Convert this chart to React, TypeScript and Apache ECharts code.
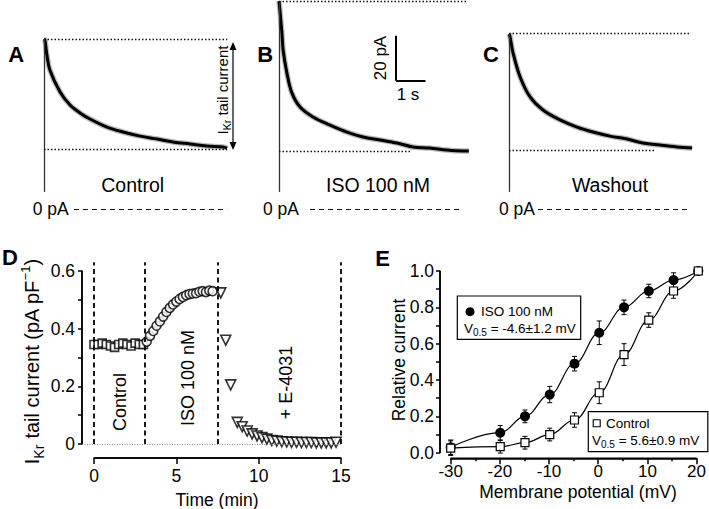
import React, { useEffect, useRef } from "react";
import * as echarts from "echarts";

const FONT = '"Liberation Sans", Arial, Helvetica, sans-serif';

// ---------- Panels A–C: current traces (time s, current pA) ----------
const traceATime = [0, 0.03, 0.1, 0.2, 0.55, 0.89, 1.23, 1.57, 2.15, 2.7, 3.28, 3.86, 4.4, 4.98, 5.56, 6.11, 6.25];
const traceACurrent = [75.6, 75.1, 68.4, 61.8, 52.0, 46.2, 42.7, 40.0, 36.4, 34.2, 32.4, 31.1, 29.8, 28.9, 28.0, 27.6, 27.1];
const traceBTime = [0, 0.03, 0.1, 0.14, 0.27, 0.44, 0.72, 1.16, 1.74, 2.32, 2.87, 3.45, 4.03, 4.57, 5.15, 5.73, 6.28, 6.48];
const traceBCurrent = [92.4, 88.4, 78.2, 70.7, 60.4, 51.6, 45.3, 40.9, 37.3, 34.2, 32.0, 30.7, 29.3, 27.6, 27.1, 26.2, 25.8, 25.8];
const traceCTime = [0, 0.03, 0.14, 0.38, 0.72, 1.16, 1.74, 2.32, 2.87, 3.45, 4.03, 4.57, 5.15, 5.73, 6.25];
const traceCCurrent = [77.8, 76.9, 69.3, 58.7, 49.8, 44.0, 39.6, 36.4, 34.2, 32.4, 31.1, 29.3, 28.4, 27.6, 27.1];
const traceXMax = [6.25, 6.48, 6.25];
const tracePeaks = [75.4, 92.4, 78.1];
const traceBaselines = [26.7, 25.5, 25.9];
const baselineEnds = [6.25, 4.47, 4.98];
const peakEnds = [6.25, 6.45, 6.18];
const zeroLineStarts = [1.02, 1.06, 0.99];
const zeroLineEnds = [6.25, 6.25, 6.18];
const traceLabels = ["Control", "ISO 100 nM", "Washout"];
const scaleBarCurrent = 20; // pA
const scaleBarTime = 1; // s

// ---------- Panel D: time course ----------
const controlTime = [0, 0.25, 0.5, 0.75, 1.0, 1.25, 1.5, 1.75, 2.0, 2.25, 2.5, 2.75, 3.0];
const controlCurrent = [0.345, 0.345, 0.35, 0.345, 0.34, 0.335, 0.345, 0.35, 0.345, 0.34, 0.35, 0.345, 0.345];
const isoTime = [3.2, 3.4, 3.6, 3.8, 4.0, 4.2, 4.4, 4.6, 4.8, 5.0, 5.2, 5.4, 5.6, 5.8, 6.0, 6.2, 6.4, 6.6, 6.8, 7.0, 7.2];
const isoCurrent = [0.355, 0.375, 0.392, 0.41, 0.425, 0.442, 0.458, 0.472, 0.484, 0.494, 0.503, 0.51, 0.516, 0.52, 0.522, 0.523, 0.528, 0.53, 0.527, 0.532, 0.53];
const e4031Time = [7.7, 8.0, 8.3, 8.7, 9.0, 9.3, 9.6, 9.9, 10.2, 10.5, 10.8, 11.1, 11.4, 11.7, 12.0, 12.3, 12.6, 12.9, 13.2, 13.5, 13.8, 14.1, 14.4, 14.7];
const e4031Current = [0.524, 0.36, 0.205, 0.075, 0.06, 0.045, 0.035, 0.028, 0.022, 0.017, 0.012, 0.01, 0.008, 0.007, 0.006, 0.006, 0.005, 0.005, 0.005, 0.004, 0.004, 0.004, 0.004, 0.006];
const dividerTimes = [0, 3.1, 7.5, 15];
const dYLabels = ["0", "0.2", "0.4", "0.6"];

// ---------- Panel E: activation curves ----------
const voltages = [-30, -20, -15, -10, -5, 0, 5, 10, 15, 20];
const isoRel = [0.03, 0.11, 0.2, 0.32, 0.49, 0.66, 0.8, 0.89, 0.95, 1.0];
const isoSem = [0.04, 0.04, 0.035, 0.045, 0.04, 0.065, 0.04, 0.037, 0.04, 0];
const ctrlRel = [0.025, 0.033, 0.055, 0.1, 0.18, 0.33, 0.54, 0.73, 0.89, 1.0];
const ctrlSem = [0.04, 0.035, 0.035, 0.035, 0.04, 0.06, 0.06, 0.04, 0.04, 0];
const eYLabels = ["0.0", "0.2", "0.4", "0.6", "0.8", "1.0"];

const zip = (a: number[], b: number[]) => a.map((v, i) => [v, b[i]]);

function buildOption() {
  const traceLefts = [44, 279, 509];
  const grids: any[] = traceLefts.map((left, i) => ({
    left, width: traceXMax[i] * 29.3, top: 0, height: 209,
  }));
  // data grids: D (3), E (4), D overlay for reference lines (5)
  grids.push({ left: 94, width: 247, top: 271, height: 173 });
  grids.push({ left: 450.7, width: 247.6, top: 271, height: 181.7 });
  const dPxPerMin = 247 / 15;
  const dPxPerUnit = 173 / 0.6;
  const ovMinX = -0.75, ovMaxY = 0.64;
  grids.push({
    left: 94 + ovMinX * dPxPerMin, width: (15 - ovMinX) * dPxPerMin,
    top: 444 - ovMaxY * dPxPerUnit, height: ovMaxY * dPxPerUnit,
  });
  // detached axis grids: D-x (6), D-y (7), E-x (8), E-y (9)
  grids.push({ left: 94, width: 247, top: 271, height: 187 });
  grids.push({ left: 82, width: 259, top: 271, height: 173 });
  grids.push({ left: 450.7, width: 247.6, top: 271, height: 187.3 });
  grids.push({ left: 440, width: 258.3, top: 271, height: 181.7 });

  const mkLine = () => ({ show: true, lineStyle: { color: "#000", width: 1.5 } });
  const mkTick = (len: number) => ({ show: true, length: len, lineStyle: { color: "#000", width: 1.5 } });
  const mkLabel = (size: number, margin: number, formatter?: any) => ({
    show: true, color: "#000", fontSize: size, fontFamily: FONT, margin, ...(formatter ? { formatter } : {}),
  });
  const hidden = (gridIndex: number, min: number, max: number) => ({ type: "value", gridIndex, min, max, show: false });

  const xAxes: any[] = traceLefts.map((_, i) => hidden(i, 0, traceXMax[i]));
  const yAxes: any[] = traceLefts.map((_, i) => hidden(i, 0, 92.9));
  xAxes.push(hidden(3, 0, 15));
  yAxes.push(hidden(3, 0, 0.6));
  xAxes.push(hidden(4, -30, 20));
  yAxes.push(hidden(4, 0, 1));
  xAxes.push(hidden(5, ovMinX, 15));
  yAxes.push(hidden(5, 0, ovMaxY));

  // D-x
  xAxes.push({
    type: "value", gridIndex: 6, min: 0, max: 15, interval: 5,
    axisLine: mkLine(), axisTick: mkTick(6), axisLabel: mkLabel(17.5, 9), splitLine: { show: false },
  });
  yAxes.push(hidden(6, 0, 1));
  // D-y
  xAxes.push(hidden(7, 0, 1));
  yAxes.push({
    type: "value", gridIndex: 7, min: 0, max: 0.6, interval: 0.1,
    axisLine: mkLine(), axisTick: mkTick(4),
    axisLabel: mkLabel(17.5, 7, (v: number) => {
      const s = String(+v.toFixed(1));
      return dYLabels.includes(s) ? s : "";
    }),
    splitLine: { show: false },
  });
  // E-x
  xAxes.push({
    type: "value", gridIndex: 8, min: -30, max: 20, interval: 10,
    axisLine: mkLine(), axisTick: mkTick(6),
    minorTick: { show: true, splitNumber: 2, length: 3, lineStyle: { color: "#000", width: 1.5 } },
    axisLabel: mkLabel(17, 5), splitLine: { show: false }, minorSplitLine: { show: false },
  });
  yAxes.push(hidden(8, 0, 1));
  // E-y
  xAxes.push(hidden(9, 0, 1));
  yAxes.push({
    type: "value", gridIndex: 9, min: 0, max: 1, interval: 0.1,
    axisLine: mkLine(), axisTick: mkTick(4),
    axisLabel: mkLabel(17.5, 6, (v: number) => {
      const s = v.toFixed(1);
      return eYLabels.includes(s) ? s : "";
    }),
    splitLine: { show: false },
  });

  const traces = [
    zip(traceATime, traceACurrent),
    zip(traceBTime, traceBCurrent),
    zip(traceCTime, traceCCurrent),
  ];

  const series: any[] = [];
  traces.forEach((data, i) => {
    const ml: any[] = [
      [{ coord: [0, 7.6], lineStyle: { type: "solid", width: 1.3, color: "#333" } }, { coord: [0, tracePeaks[i]] }],
      [{ coord: [0, tracePeaks[i]], lineStyle: { type: [1.5, 2], width: 1.4, color: "#111" } }, { coord: [peakEnds[i], tracePeaks[i]] }],
      [{ coord: [0, traceBaselines[i]], lineStyle: { type: [1.5, 2], width: 1.4, color: "#111" } }, { coord: [baselineEnds[i], traceBaselines[i]] }],
      [{ coord: [zeroLineStarts[i], 0], lineStyle: { type: [5, 4], width: 1.1, color: "#111" } }, { coord: [zeroLineEnds[i], 0] }],
    ];
    if (i === 1) {
      ml.push([{ coord: [4, 57], lineStyle: { type: "solid", width: 2, color: "#000" } }, { coord: [4, 57 + scaleBarCurrent] }]);
      ml.push([{ coord: [4, 57], lineStyle: { type: "solid", width: 2, color: "#000" } }, { coord: [4 + scaleBarTime, 57] }]);
    }
    series.push({
      type: "line", xAxisIndex: i, yAxisIndex: i, data, smooth: 0.35, showSymbol: false,
      lineStyle: { color: "#777", width: 5.5, opacity: 0.5 }, silent: true, clip: false, z: 1,
    });
    series.push({
      type: "line", xAxisIndex: i, yAxisIndex: i, data, smooth: 0.35, showSymbol: false,
      lineStyle: { color: "#000", width: 3 }, silent: true, clip: false, z: 2,
      markLine: { silent: true, symbol: "none", label: { show: false }, data: ml },
    });
  });

  // Axis lines of the detached axes, drawn through each axis grid's own scale
  const axisLineSeries = (idx: number, from: number[], to: number[]) => ({
    type: "custom", xAxisIndex: idx, yAxisIndex: idx, clip: false, silent: true, z: 5,
    data: [[from[0], from[1], to[0], to[1]]],
    encode: { x: [0, 2], y: [1, 3] },
    renderItem: (params: any, api: any) => {
      const a = api.coord([api.value(0), api.value(1)]);
      const b = api.coord([api.value(2), api.value(3)]);
      return { type: "line", shape: { x1: a[0], y1: a[1], x2: b[0], y2: b[1] }, style: { stroke: "#000", lineWidth: 1.5 } };
    },
  });
  series.push(axisLineSeries(6, [0, 0], [15, 0]));
  series.push(axisLineSeries(7, [0, 0], [0, 0.6]));
  series.push(axisLineSeries(8, [-30, 0], [20, 0]));
  series.push(axisLineSeries(9, [0, 0], [0, 1]));

  // Panel D reference lines (overlay grid sharing D's scale)
  series.push({
    type: "scatter", xAxisIndex: 5, yAxisIndex: 5, data: [[15, 0]], symbolSize: 0, clip: false, z: 1, silent: true,
    markLine: {
      silent: true, symbol: "none", label: { show: false },
      data: [
        ...dividerTimes.map((t) => [
          { coord: [t, 0], lineStyle: { type: [5, 3.5], width: 1.8, color: "#000" } },
          { coord: [t, 0.63] },
        ]),
        [{ coord: [-0.73, 0], lineStyle: { type: [1, 1.5], width: 1, color: "#888" } }, { coord: [15, 0] }],
      ],
    },
  });
  series.push({
    type: "scatter", xAxisIndex: 3, yAxisIndex: 3, data: zip(controlTime, controlCurrent),
    symbol: "rect", symbolSize: 8, clip: false, z: 3,
    itemStyle: { color: "#fff", borderColor: "#000", borderWidth: 1.6 },
  });
  series.push({
    type: "scatter", xAxisIndex: 3, yAxisIndex: 3, data: zip(isoTime, isoCurrent),
    symbol: "circle", symbolSize: 9, clip: false, z: 3,
    itemStyle: { color: "#fff", borderColor: "#000", borderWidth: 1.6 },
  });
  series.push({
    type: "scatter", xAxisIndex: 3, yAxisIndex: 3, data: zip(e4031Time, e4031Current),
    symbol: "triangle", symbolRotate: 180, symbolSize: 10, clip: false, z: 3,
    itemStyle: { color: "#fff", borderColor: "#000", borderWidth: 1.6 },
  });

  // Panel E
  const errRender = (params: any, api: any) => {
    const x = api.value(0);
    const lo = api.coord([x, api.value(1)]);
    const hi = api.coord([x, api.value(2)]);
    const st = { stroke: "#000", lineWidth: 1 };
    return {
      type: "group",
      children: [
        { type: "line", shape: { x1: lo[0], y1: lo[1], x2: hi[0], y2: hi[1] }, style: st },
        { type: "line", shape: { x1: lo[0] - 2.5, y1: lo[1], x2: lo[0] + 2.5, y2: lo[1] }, style: st },
        { type: "line", shape: { x1: hi[0] - 2.5, y1: hi[1], x2: hi[0] + 2.5, y2: hi[1] }, style: st },
      ],
    };
  };
  series.push({
    type: "custom", xAxisIndex: 4, yAxisIndex: 4, renderItem: errRender, clip: false, z: 1, silent: true,
    data: voltages.map((v, i) => [v, isoRel[i] - isoSem[i], isoRel[i] + isoSem[i]]),
    encode: { x: 0, y: [1, 2] },
  });
  series.push({
    type: "custom", xAxisIndex: 4, yAxisIndex: 4, renderItem: errRender, clip: false, z: 1, silent: true,
    data: voltages.map((v, i) => [v, ctrlRel[i] - ctrlSem[i], ctrlRel[i] + ctrlSem[i]]),
    encode: { x: 0, y: [1, 2] },
  });
  series.push({
    type: "line", xAxisIndex: 4, yAxisIndex: 4, data: zip(voltages, isoRel), smooth: 0.4, smoothMonotone: "x",
    symbol: "circle", symbolSize: 10, showSymbol: true, clip: false, z: 2,
    lineStyle: { color: "#000", width: 1.2 }, itemStyle: { color: "#000", borderColor: "#000", borderWidth: 0 },
  });
  series.push({
    type: "line", xAxisIndex: 4, yAxisIndex: 4, data: zip(voltages, ctrlRel), smooth: 0.4, smoothMonotone: "x",
    symbol: "rect", symbolSize: 8, showSymbol: true, clip: false, z: 3,
    lineStyle: { color: "#000", width: 1.2 }, itemStyle: { color: "#fff", borderColor: "#000", borderWidth: 1.2 },
  });

  const t = (x: number, y: number, text: string, size: number, o: any = {}) => ({
    type: "text", x, y, rotation: o.rot || 0, silent: true,
    style: {
      text, fill: "#000", font: `${o.bold ? "bold " : ""}${size}px ${FONT}`,
      textAlign: o.align || "center", textVerticalAlign: "middle",
      ...(o.rich ? { rich: o.rich } : {}),
    },
  });
  const richSub = (size: number, subSize: number, lh: number) => ({
    m: { fontSize: size, fontFamily: FONT, lineHeight: lh, color: "#000" },
    s: { fontSize: subSize, fontFamily: FONT, lineHeight: subSize, verticalAlign: "bottom", color: "#000" },
    p: { fontSize: subSize - 1, fontFamily: FONT, lineHeight: subSize - 1, verticalAlign: "top", color: "#000" },
  });

  const graphic: any[] = [
    t(16.3, 54.7, "A", 22, { bold: true }),
    t(265.3, 54.7, "B", 22, { bold: true }),
    t(491, 54.7, "C", 22, { bold: true }),
    t(10, 257.5, "D", 22, { bold: true }),
    t(382.5, 258, "E", 22, { bold: true }),
    t(132.7, 185, traceLabels[0], 19.5),
    t(378, 185, traceLabels[1], 19.5),
    t(610, 185, traceLabels[2], 19.5),
    t(32.7, 209, "0 pA", 17.5, { align: "left" }),
    t(263, 209, "0 pA", 17.5, { align: "left" }),
    t(499, 209, "0 pA", 17.5, { align: "left" }),
    t(222, 90, "{m|I}{s|Kr}{m| tail current}", 15, { rot: Math.PI / 2, rich: richSub(15, 10.5, 21) }),
    { type: "line", silent: true, shape: { x1: 233, y1: 48, x2: 233, y2: 144 }, style: { stroke: "#000", lineWidth: 1.2 } },
    { type: "polygon", silent: true, shape: { points: [[229.5, 50], [236.5, 50], [233, 42]] }, style: { fill: "#000" } },
    { type: "polygon", silent: true, shape: { points: [[229.5, 142], [236.5, 142], [233, 150]] }, style: { fill: "#000" } },
    t(380, 58, "20 pA", 17, { rot: Math.PI / 2 }),
    t(408, 94, "1 s", 17),
    t(119.5, 402, "Control", 18, { rot: Math.PI / 2 }),
    t(187.5, 378, "ISO 100 nM", 18, { rot: Math.PI / 2 }),
    t(286, 382.5, "+ E-4031", 18, { rot: Math.PI / 2 }),
    t(32, 361.5, "{m|I}{s|Kr}{m| tail current (pA pF}{p|−1}{m|)}", 20, { rot: Math.PI / 2, rich: richSub(20, 14, 27) }),
    t(217, 500, "Time (min)", 17.5),
    t(399, 360, "Relative current", 17.5, { rot: Math.PI / 2 }),
    t(578, 492, "Membrane potential (mV)", 17.5),
    { type: "rect", silent: true, shape: { x: 457.3, y: 296, width: 123.4, height: 43.3 }, style: { fill: "none", stroke: "#000", lineWidth: 1.2 } },
    { type: "circle", silent: true, shape: { cx: 470, cy: 311.7, r: 4.5 }, style: { fill: "#000" } },
    t(481, 311.7, "ISO 100 nM", 13.5, { align: "left" }),
    t(464, 328.5, "{m|V}{s|0.5}{m| = -4.6±1.2 mV}", 13.5, { align: "left", rich: richSub(13.5, 10, 18) }),
    { type: "rect", silent: true, shape: { x: 588.3, y: 411.7, width: 119.5, height: 40 }, style: { fill: "#fff", stroke: "#000", lineWidth: 1.2 } },
    { type: "rect", silent: true, shape: { x: 593.2, y: 419.8, width: 7, height: 7 }, style: { fill: "#fff", stroke: "#000", lineWidth: 1.1 } },
    t(606, 423.5, "Control", 13.5, { align: "left" }),
    t(592, 440.5, "{m|V}{s|0.5}{m| = 5.6±0.9 mV}", 13.5, { align: "left", rich: richSub(13.5, 10, 18) }),
  ];

  return {
    animation: false,
    backgroundColor: "#fff",
    grid: grids,
    xAxis: xAxes,
    yAxis: yAxes,
    series,
    graphic: { elements: graphic },
  };
}

export default function App() {
  const ref = useRef<HTMLDivElement>(null);
  useEffect(() => {
    if (!ref.current) return;
    const chart = echarts.init(ref.current, undefined, { renderer: "svg" });
    chart.setOption(buildOption() as any);
    return () => chart.dispose();
  }, []);
  return (
    <div
      ref={ref}
      style={{ position: "absolute", left: 0, top: 0, width: 709, height: 509, background: "#fff" }}
    />
  );
}
